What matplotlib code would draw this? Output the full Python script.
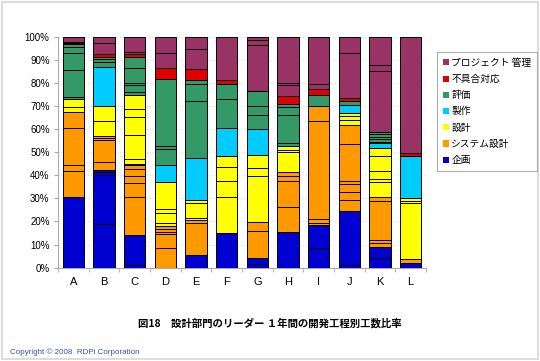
import matplotlib
matplotlib.use('Agg')
import matplotlib.pyplot as plt
from matplotlib.patches import Patch, Rectangle
from matplotlib.ticker import PercentFormatter

jp = ['Noto Sans CJK JP', 'DejaVu Sans']
plt.rcParams['font.family'] = ['Liberation Sans', 'DejaVu Sans']

bars = ['A', 'B', 'C', 'D', 'E', 'F', 'G', 'H', 'I', 'J', 'K', 'L']
categories = ['企画', 'システム設計', '設計', '製作', '評価', '不具合対応', 'プロジェクト 管理']
colors = ['#0000d0', '#ff9900', '#ffff00', '#00ccff', '#339966', '#e00000', '#993366']

# sub-items of each bar (%), bottom to top within each process
kikaku = [[30.4], [18.8, 21.3, 1.5, 0.5], [1.2, 12.9], [], [5.5], [15.2],
          [1.4, 2.6], [15.6], [8.4, 10.1], [1.2, 23.3], [4.0, 5.1], [1.9]]
system = [[11.6, 2.6, 15.7, 7.2], [3.6, 9.6, 0.9, 0.8], [16.6, 6.1, 3.0, 2.8, 2.0, 0.3],
          [8.4, 6.2, 1.0, 1.2, 1.4], [13.7, 1.4], [], [11.7, 4.2], [10.8, 11.1, 2.3, 1.8],
          [1.0, 1.4, 42.6, 6.5], [4.8, 3.3, 3.6, 1.5, 15.7, 8.4], [1.4, 1.5, 17.0, 1.7], [1.7]]
sekkei = [[2.2, 3.3], [6.5, 6.5], [2.0, 10.4, 8.1, 3.4, 5.9], [1.0, 4.6, 1.5, 11.9],
          [0.8, 6.4, 1.5], [15.5, 7.0, 5.7, 4.9], [19.9, 3.5, 5.5], [8.3, 1.0, 1.8], [],
          [2.1, 1.8, 1.4], [6.5, 1.2, 3.6, 6.3, 3.4], [24.2, 1.2, 1.3]]
seisaku = [[], [17.0], [], [7.2], [18.3], [12.0], [11.2], [], [], [3.3], [2.1], [18.0]]
hyoka = [[0.7, 11.9, 7.2, 2.6, 1.4, 0.6], [2.2, 1.0, 1.1], [1.5, 2.9, 0.7, 6.5, 5.0],
         [7.0, 1.4, 28.7], [24.7, 7.2, 1.7], [12.6, 6.6], [5.9, 4.1, 6.5],
         [1.1, 12.3, 3.6, 1.2], [4.7], [1.8], [0.7, 1.2, 1.0, 1.0, 0.9], []]
fuguai = [[0.3], [1.1], [1.2], [4.8], [4.7], [1.7], [], [3.6], [2.6], [1.1], [], [1.5]]
pm = [[2.3], [4.7, 2.9], [1.0, 6.5], [6.5, 7.2], [8.8, 5.3], [18.8], [19.9, 2.2, 1.4],
      [4.6, 1.0, 19.9], [2.2, 20.5], [19.5, 7.2], [26.5, 2.6, 12.3], [50.2]]

series = [kikaku, system, sekkei, seisaku, hyoka, fuguai, pm]

fig = plt.figure(figsize=(5.4, 3.61), dpi=100)
ax = fig.add_axes([0.1074, 0.2585, 0.6815, 0.6398])

for i, name in enumerate(bars):
    total = sum(sum(s[i]) for s in series)
    bottom = 0.0
    for s, col in zip(series, colors):
        for v in s[i]:
            h = v / total
            ax.bar(i, h, bottom=bottom, width=0.69, color=col,
                   edgecolor='black', linewidth=0.7, zorder=3)
            bottom += h

ax.set_xlim(-0.5, len(bars) - 0.5)
ax.set_ylim(0, 1)
ax.set_yticks([k / 10 for k in range(11)])
ax.yaxis.set_major_formatter(PercentFormatter(1.0, decimals=0))
ax.set_xticks(range(len(bars)))
ax.set_xticklabels(bars)
ax.set_xticks([k + 0.5 for k in range(-1, len(bars))], minor=True)
ax.tick_params(axis='x', which='major', length=0, labelsize=8, pad=7)
ax.tick_params(axis='x', which='minor', length=3, color='#aaaaaa')
ax.tick_params(axis='y', length=3, color='#aaaaaa', labelsize=7, pad=3)
ax.grid(axis='y', color='#dddddd', linestyle=':', linewidth=0.8, zorder=0)
for side in ['top', 'right']:
    ax.spines[side].set_visible(False)
for side in ['left', 'bottom']:
    ax.spines[side].set_color('#aaaaaa')
    ax.spines[side].set_linewidth(0.8)

handles = [Patch(facecolor=c, edgecolor='none') for c in colors][::-1]
leg = fig.legend(handles, categories[::-1], loc='upper left',
                 bbox_to_anchor=(0.809, 0.856), borderaxespad=0,
                 prop={'family': jp, 'size': 7},
                 handlelength=0.6, handleheight=0.6, handletextpad=0.3,
                 labelspacing=0.64, borderpad=0.6, fancybox=False, frameon=True)
leg.get_frame().set_edgecolor('#999999')
leg.get_frame().set_linewidth(0.8)

fig.text(0.5, 0.105, '図18　設計部門のリーダー １年間の開発工程別工数比率',
         ha='center', va='center', family=jp, fontsize=7.5, fontweight='bold')
fig.text(0.019, 0.025, 'Copyright © 2008  RDPi Corporation', ha='left', va='center',
         fontsize=5.8, color='#3355aa')

fig.patches.append(Rectangle((0.004, 0.006), 0.992, 0.988, transform=fig.transFigure,
                             fill=False, edgecolor='#dddddd', linewidth=1.5))

fig.savefig('out.png', dpi=100)
